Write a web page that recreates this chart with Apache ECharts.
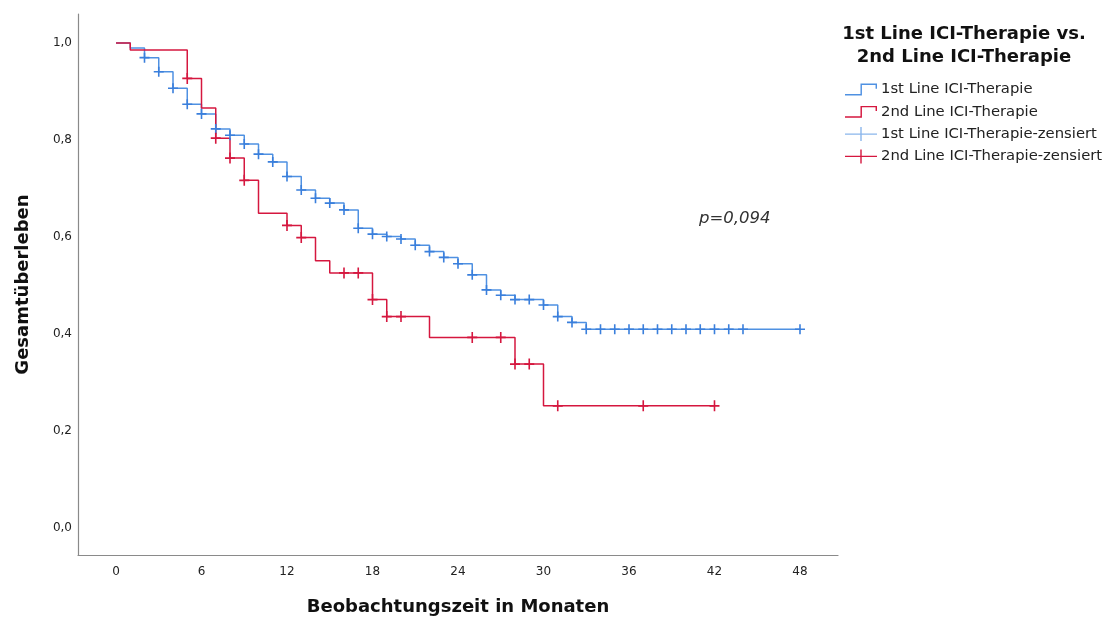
<!DOCTYPE html>
<html>
<head>
<meta charset="utf-8">
<script src="https://cdn.jsdelivr.net/npm/echarts@6/dist/echarts.min.js"></script>
<style>
  html, body { margin: 0; padding: 0; background: #fff; }
  #km { width: 1108px; height: 621px; }
</style>
</head>
<body>
<div id="km"></div>
<script>
// ticks
var xTicks = [0, 6, 12, 18, 24, 30, 36, 42, 48];
var yTicks = [0, 0.2, 0.4, 0.6, 0.8, 1.0];

// 1st line: step points (month, survival)
var blueTime = [0, 1, 2, 3, 4, 5, 6, 7, 8, 9, 10, 11, 12, 13, 14, 15, 16, 17, 18, 19, 20,
  21, 22, 23, 24, 25, 26, 27, 28, 30, 31, 32, 33, 48];
var blueSurv = [1.0, 0.990, 0.970, 0.941, 0.907, 0.874, 0.854, 0.823, 0.810, 0.792, 0.771,
  0.755, 0.725, 0.697, 0.680, 0.670, 0.656, 0.618, 0.606, 0.601, 0.596,
  0.583, 0.570, 0.558, 0.545, 0.522, 0.491, 0.480, 0.471, 0.460, 0.436, 0.424, 0.410, 0.410];
// 1st line: censored
var blueCensTime = [2, 3, 4, 5, 6, 7, 8, 9, 10, 11, 12, 13, 14, 15, 16, 17, 18, 19, 20, 21,
  22, 23, 24, 25, 26, 27, 28, 29, 30, 31, 32, 33, 34, 35, 36, 37, 38, 39, 40, 41, 42, 43, 44, 48];
var blueCensSurv = [0.970, 0.941, 0.907, 0.874, 0.854, 0.823, 0.810, 0.792, 0.771, 0.755,
  0.725, 0.697, 0.680, 0.670, 0.656, 0.618, 0.606, 0.601, 0.596, 0.583,
  0.570, 0.558, 0.545, 0.522, 0.491, 0.480, 0.471, 0.471, 0.460, 0.436, 0.424, 0.410,
  0.410, 0.410, 0.410, 0.410, 0.410, 0.410, 0.410, 0.410, 0.410, 0.410, 0.410, 0.410];

// 2nd line: step points
var redTime = [0, 1, 5, 6, 7, 8, 9, 10, 12, 13, 14, 15, 18, 19, 22, 28, 30, 42];
var redSurv = [1.0, 0.986, 0.927, 0.866, 0.804, 0.763, 0.717, 0.649, 0.624, 0.599, 0.551,
  0.526, 0.471, 0.436, 0.393, 0.338, 0.252, 0.252];
// 2nd line: censored
var redCensTime = [5, 7, 8, 9, 12, 13, 16, 17, 18, 19, 20, 25, 27, 28, 29, 31, 37, 42];
var redCensSurv = [0.927, 0.804, 0.763, 0.717, 0.624, 0.599, 0.526, 0.526, 0.471, 0.436,
  0.436, 0.393, 0.393, 0.338, 0.338, 0.252, 0.252, 0.252];

var names = ['1st Line ICI-Therapie', '2nd Line ICI-Therapie',
  '1st Line ICI-Therapie-zensiert', '2nd Line ICI-Therapie-zensiert'];

var blue = '#4f91e2';
var red = '#d5173f';
var font = '"DejaVu Sans", Arial, sans-serif';

function zip(a, b) {
  return a.map(function (v, i) { return [v, b[i]]; });
}

var plus = 'path://M0,4.2H10V5.8H0Z M4.2,0H5.8V10H4.2Z';
var stepIcon = 'path://M0,12H15V2H31V7H29.6V3.4H16.4V13.4H0Z';
var plusIcon = 'path://M0,6.3H32V7.7H0Z M15.3,0H16.7V14H15.3Z';

var options = {
  animation: false,
  textStyle: { fontFamily: font },
  grid: { left: 78, right: 270, top: 14, bottom: 65 },
  xAxis: {
    type: 'value',
    min: -2.667,
    max: 50.667,
    name: 'Beobachtungszeit in Monaten',
    nameLocation: 'middle',
    nameGap: 43,
    nameTextStyle: { fontSize: 18, fontWeight: 'bold', color: '#111' },
    axisLine: { show: true, onZero: false, lineStyle: { color: '#8a8a8a', width: 1.2 } },
    axisTick: { show: false },
    splitLine: { show: false },
    axisLabel: { customValues: xTicks, margin: 11, fontSize: 12, color: '#222' }
  },
  yAxis: {
    type: 'value',
    min: -0.0557,
    max: 1.06,
    name: 'Gesamtüberleben',
    nameLocation: 'middle',
    nameGap: 46,
    nameTextStyle: { fontSize: 18, fontWeight: 'bold', color: '#111' },
    axisLine: { show: true, onZero: false, lineStyle: { color: '#8a8a8a', width: 1.2 } },
    axisTick: { show: false },
    splitLine: { show: false },
    axisLabel: {
      customValues: yTicks, margin: 6, fontSize: 12, color: '#222',
      formatter: function (v) { return v.toFixed(1).replace('.', ','); }
    }
  },
  legend: {
    orient: 'vertical',
    left: 840,
    top: 77,
    itemWidth: 32,
    itemHeight: 14,
    itemGap: 7.3,
    textStyle: { fontSize: 14.8, color: '#222', padding: [0, 0, 0, -1] },
    data: [
      { name: names[0], icon: stepIcon, itemStyle: { color: blue } },
      { name: names[1], icon: stepIcon, itemStyle: { color: red } },
      { name: names[2], icon: plusIcon, itemStyle: { color: '#8ab6ec' } },
      { name: names[3], icon: plusIcon, itemStyle: { color: red } }
    ]
  },
  graphic: [
    {
      type: 'text',
      x: 964,
      y: 23,
      style: {
        text: '1st Line ICI-Therapie vs.\n2nd Line ICI-Therapie',
        align: 'center',
        font: 'bold 18px "DejaVu Sans", Arial, sans-serif',
        lineHeight: 23,
        fill: '#111'
      }
    },
    {
      type: 'text',
      x: 699,
      y: 210,
      style: {
        text: 'p=0,094',
        font: 'italic 16.5px "DejaVu Sans", Arial, sans-serif',
        fill: '#333'
      }
    }
  ],
  series: [
    {
      name: names[0], type: 'line', step: 'end', showSymbol: false,
      lineStyle: { color: blue, width: 1.5 }, itemStyle: { color: blue },
      data: zip(blueTime, blueSurv), z: 2
    },
    {
      name: names[1], type: 'line', step: 'end', showSymbol: false,
      lineStyle: { color: red, width: 1.5 }, itemStyle: { color: red },
      data: zip(redTime, redSurv), z: 3
    },
    {
      name: names[2], type: 'scatter', symbol: plus, symbolSize: [10, 10],
      itemStyle: { color: '#3a7fdc', opacity: 1 },
      data: zip(blueCensTime, blueCensSurv), z: 4
    },
    {
      name: names[3], type: 'scatter', symbol: plus, symbolSize: [10, 11],
      itemStyle: { color: red, opacity: 1 },
      data: zip(redCensTime, redCensSurv), z: 5
    }
  ]
};

echarts.init(document.getElementById('km')).setOption(options);
</script>
</body>
</html>
